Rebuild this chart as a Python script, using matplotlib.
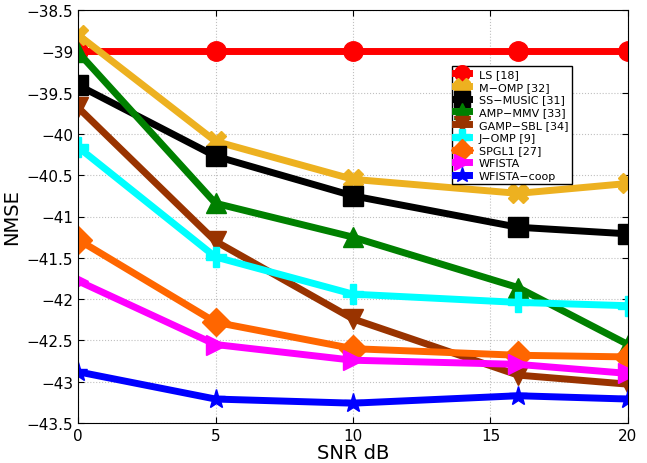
import matplotlib.pyplot as plt

# SNR points and NMSE values per method
snr = [0, 5, 10, 16, 20]
names = ['LS [18]', 'M\u2212OMP [32]', 'SS\u2212MUSIC [31]', 'AMP\u2212MMV [33]',
         'GAMP\u2212SBL [34]', 'J\u2212OMP [9]', 'SPGL1 [27]', 'WFISTA', 'WFISTA\u2212coop']
ls = [-39.0, -39.0, -39.0, -39.0, -39.0]
momp = [-38.8, -40.09, -40.55, -40.72, -40.6]
ssmusic = [-39.41, -40.27, -40.75, -41.13, -41.21]
ampmmv = [-39.01, -40.84, -41.25, -41.86, -42.55]
gampsbl = [-39.68, -41.3, -42.24, -42.92, -43.03]
jomp = [-40.16, -41.49, -41.94, -42.04, -42.08]
spgl1 = [-41.28, -42.28, -42.6, -42.68, -42.7]
wfista = [-41.78, -42.55, -42.74, -42.79, -42.9]
wfista_coop = [-42.88, -43.21, -43.26, -43.17, -43.21]

series = [ls, momp, ssmusic, ampmmv, gampsbl, jomp, spgl1, wfista, wfista_coop]
colors = ['#ff0000', '#edb120', '#000000', '#008000', '#993300',
          '#00ffff', '#ff6600', '#ff00ff', '#0000ff']
markers = ['o', 'X', 's', '^', 'v', 'P', 'D', '>', '*']

fig = plt.figure(figsize=(6.47, 4.64), dpi=100)
ax = fig.add_axes([0.1206, 0.0862, 0.85, 0.8901])

for vals, name, c, m in zip(series, names, colors, markers):
    ax.plot(snr, vals, color=c, marker=m, lw=5, ms=14, label=name)

ax.set_xlim(0, 20)
ax.set_ylim(-43.5, -38.5)
ax.set_xticks([0, 5, 10, 15, 20])
ax.set_yticks([-38.5 - 0.5 * i for i in range(11)])
ax.set_yticklabels(['\u2212%g' % (38.5 + 0.5 * i) for i in range(11)])
ax.tick_params(labelsize=11, direction='in', length=4, top=True, right=True)
ax.grid(True, linestyle=':', color='#c0c0c0', lw=0.8)
ax.set_xlabel('SNR dB', fontsize=14, labelpad=0)
ax.set_ylabel('NMSE', fontsize=14)

leg = ax.legend(loc='upper left', bbox_to_anchor=(0.67, 0.879), fontsize=8,
                frameon=True, fancybox=False, edgecolor='black', framealpha=1,
                borderpad=0.3, labelspacing=0.25, handlelength=1.2,
                handletextpad=0.9, markerscale=0.8)
leg.get_frame().set_linewidth(1)

fig.savefig('out.png', dpi=100)
